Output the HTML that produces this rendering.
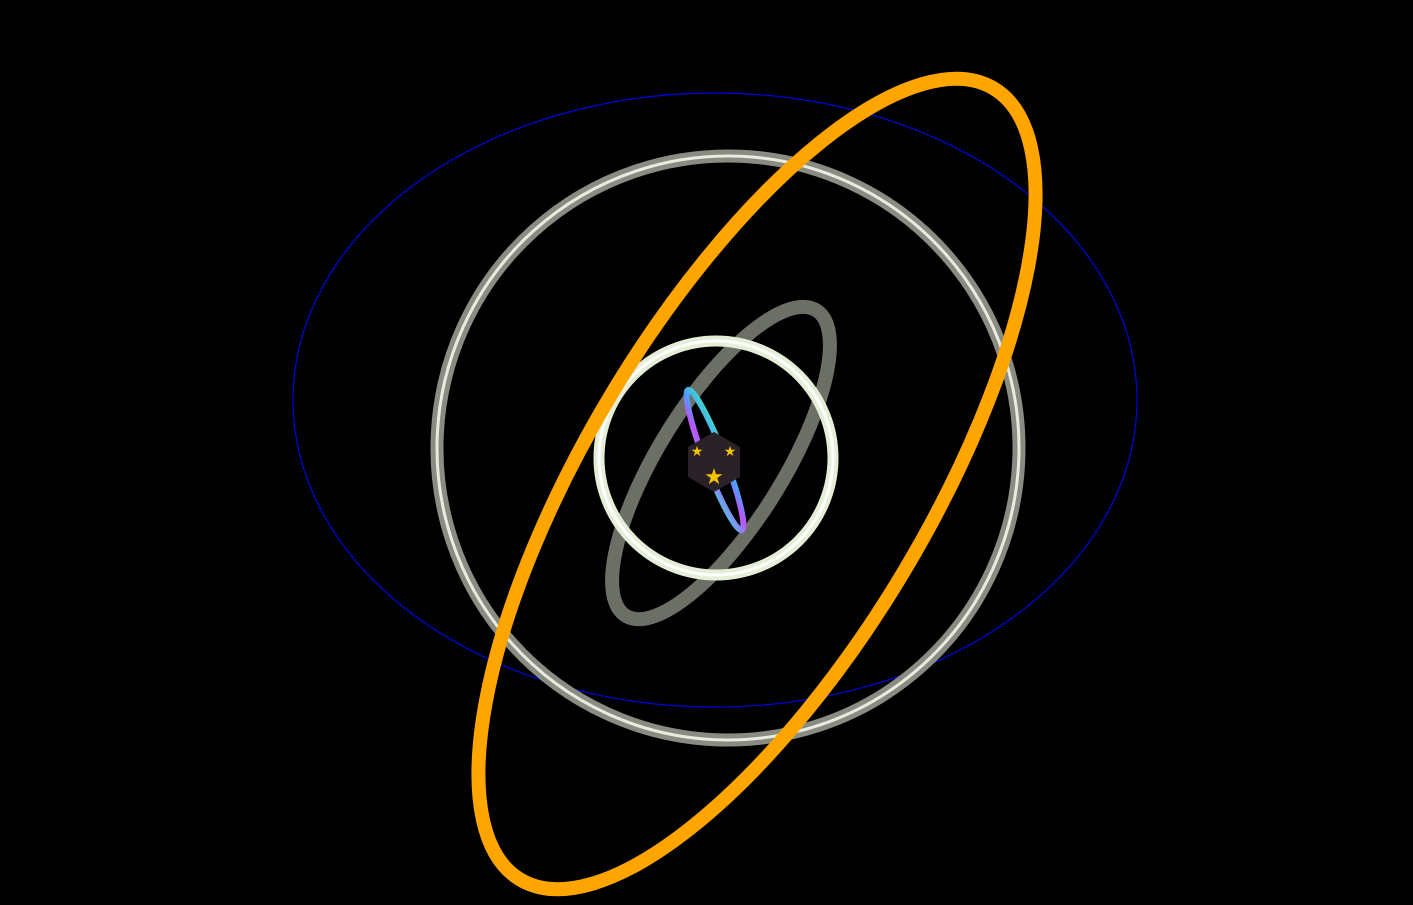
<!DOCTYPE html>
<html><head><meta charset="utf-8"><style>
html,body{margin:0;padding:0;background:#000;width:1413px;height:905px;overflow:hidden}
svg{display:block}
</style></head><body>
<svg width="1413" height="905" viewBox="0 0 1413 905">
<defs>
<linearGradient id="rb" x1="0" y1="0" x2="1" y2="1">
<stop offset="0" stop-color="#3fe0c0"/><stop offset="0.35" stop-color="#4aa0ff"/><stop offset="0.6" stop-color="#c050ff"/><stop offset="1" stop-color="#40d0e0"/>
</linearGradient>
</defs>
<rect width="1413" height="905" fill="#000"/>
<ellipse cx="715" cy="400" rx="422" ry="307" fill="none" stroke="#0000e0" stroke-width="1.2"/>
<g>
<ellipse cx="728" cy="448" rx="291" ry="292" fill="none" stroke="#8a8c82" stroke-width="13" transform="rotate(3 728 448)"/>
<ellipse cx="728" cy="448" rx="291" ry="292" fill="none" stroke="#e8ece0" stroke-width="3" transform="rotate(3 728 448)"/>
</g>
<ellipse cx="721" cy="463" rx="180" ry="62" fill="none" stroke="#6c6f66" stroke-width="14" transform="rotate(-58 721 463)"/>
<g>
<circle cx="716" cy="458" r="117" fill="none" stroke="#e6eed8" stroke-width="11"/>
<circle cx="716" cy="458" r="117" fill="none" stroke="#ffffff" stroke-width="3"/>
</g>
<ellipse cx="757" cy="484" rx="461" ry="171" fill="none" stroke="#ffa500" stroke-width="14" transform="rotate(-59.1 757 484)"/>
<ellipse cx="715" cy="460" rx="75" ry="10" fill="none" stroke="url(#rb)" stroke-width="6" transform="rotate(69 715 460)"/>
<g>
<polygon points="714,432 740,447 740,477 714,492 688,477 688,447" fill="#2a2228"/>
<text x="714" y="484" font-family="DejaVu Sans, sans-serif" font-size="22" fill="#f5c400" text-anchor="middle">★</text>
<text x="730" y="456" font-family="DejaVu Sans, sans-serif" font-size="14" fill="#f5c400" text-anchor="middle">★</text>
<text x="697" y="456" font-family="DejaVu Sans, sans-serif" font-size="14" fill="#f5c400" text-anchor="middle">★</text>
</g>
</svg>
</body></html>
